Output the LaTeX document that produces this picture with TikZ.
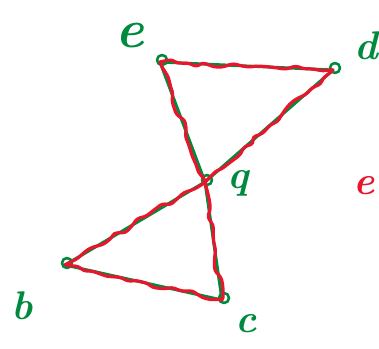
\documentclass[tikz,border=0pt]{standalone}
\usepackage{tikz}
\usetikzlibrary{decorations.pathmorphing}
\definecolor{inkgreen}{RGB}{0,138,62}
\definecolor{inkred}{RGB}{232,22,44}

\begin{document}
\begin{tikzpicture}[x=1pt, y=-1pt, line cap=round, line join=round,
	edge/.style={inkgreen, line width=3pt},
	wavy/.style={inkred, line width=3.2pt, decorate, decoration={random steps, segment length=9pt, amplitude=3.2pt}, rounded corners=3pt},
	lbl/.style={inkgreen, font=\fontsize{40}{40}\selectfont\bfseries\itshape}]
	\useasboundingbox (0,0) rectangle (379,348);
	% vertices
	\coordinate (e) at (160,62);
	\coordinate (d) at (333,70);
	\coordinate (q) at (205,182);
	\coordinate (b) at (65,265);
	\coordinate (c) at (222,300);
	% green triangles
	\draw [edge] (e) -- (d) -- (q) -- cycle;
	\draw [edge] (q) -- (b) -- (c) -- cycle;
	\foreach \v in {e,d,q,b,c}
		\draw [edge, line width=2.6pt] (\v) ++(2,-2) circle (5);
	% red overlay
	\draw [wavy] (e) -- (d) -- (q) -- (b) -- (c) -- (q) -- (e);
	% labels
	\node [lbl, inner sep=0pt, font=\fontsize{54}{54}\selectfont\bfseries\itshape] (le) at (130,36) {e};
	\node [lbl] (ld) at (366,46) {d};
	\node [lbl] (lq) at (238,183) {q};
	\node [lbl, inkred] (lr) at (364,186) {e};
	\node [lbl] (lb) at (22,306) {b};
	\node [lbl] (lc) at (246,324) {c};
\end{tikzpicture}
\end{document}
